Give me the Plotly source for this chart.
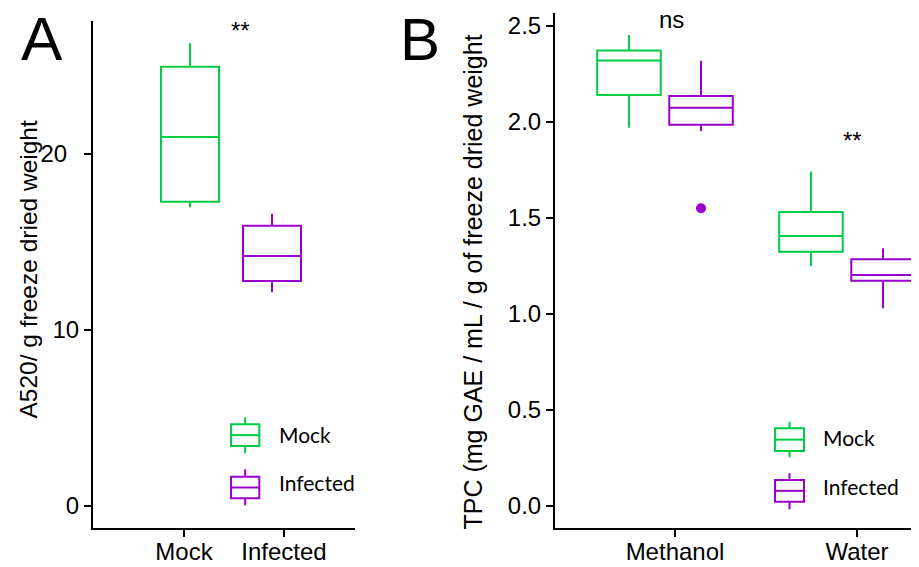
import plotly.graph_objects as go

# ---------------- data ----------------
A_groups = ["Mock", "Infected"]
A_q1 = [17.29, 12.78]
A_median = [20.97, 14.20]
A_q3 = [24.96, 15.93]
A_lower = [16.97, 12.14]
A_upper = [26.29, 16.61]
A_ticks = [0, 10, 20]
A_ticklabels = ["0", "10", "20\u2002"]

B_categories = ["Methanol", "Water"]
B_groups = ["Mock", "Infected"]
B_q1 = {"Mock": [2.141, 1.324], "Infected": [1.986, 1.173]}
B_median = {"Mock": [2.321, 1.406], "Infected": [2.074, 1.203]}
B_q3 = {"Mock": [2.373, 1.531], "Infected": [2.135, 1.286]}
B_lower = {"Mock": [1.970, 1.250], "Infected": [1.953, 1.030]}
B_upper = {"Mock": [2.453, 1.741], "Infected": [2.319, 1.342]}
B_outlier_cat = ["Methanol"]
B_outlier_group = ["Infected"]
B_outlier_val = [1.551]
B_ticks = [0, 0.5, 1.0, 1.5, 2.0, 2.5]
B_ticklabels = ["0.0", "0.5", "1.0", "1.5", "2.0", "2.5"]

A_sig = "**"
B_sig = ["ns", "**"]

# ---------------- style ----------------
W, H = 919, 567
OFF = 8  # page body margin offset
COLORS = {"Mock": "#00CC44", "Infected": "#9900CC"}
AXFONT = "Liberation Sans, Arial, Helvetica, sans-serif"
LEGFONT = "Lato, Noto Sans, sans-serif"

def px(x):
    return (x - OFF) / W

def py(y):
    return 1 - (y - OFF) / H

A_box_pos = {"Mock": 1.06, "Infected": 1.88}
B_dodge = {"Mock": -0.198, "Infected": 0.198}
B_shift = -0.055

fig = go.Figure()

for i, g in enumerate(A_groups):
    fig.add_trace(go.Box(
        x=[A_box_pos[g]], q1=[A_q1[i]], median=[A_median[i]], q3=[A_q3[i]],
        lowerfence=[A_lower[i]], upperfence=[A_upper[i]],
        width=0.58, whiskerwidth=0, boxpoints=False,
        line=dict(color=COLORS[g], width=2), fillcolor="rgba(0,0,0,0)",
        xaxis="x", yaxis="y", showlegend=False, hoverinfo="skip"))

for g in B_groups:
    xs = [j + 1 + B_dodge[g] + B_shift for j in range(len(B_categories))]
    fig.add_trace(go.Box(
        x=xs, q1=B_q1[g], median=B_median[g], q3=B_q3[g],
        lowerfence=B_lower[g], upperfence=B_upper[g],
        width=0.349, whiskerwidth=0, boxpoints=False,
        line=dict(color=COLORS[g], width=2), fillcolor="rgba(0,0,0,0)",
        xaxis="x2", yaxis="y2", showlegend=False, hoverinfo="skip"))

ox = [B_categories.index(c) + 1 + B_dodge[g] + B_shift for c, g in zip(B_outlier_cat, B_outlier_group)]
fig.add_trace(go.Scatter(
    x=ox, y=B_outlier_val, mode="markers",
    marker=dict(color=[COLORS[g] for g in B_outlier_group], size=10),
    xaxis="x2", yaxis="y2", showlegend=False, hoverinfo="skip"))

axis_common = dict(showline=True, linecolor="black", linewidth=2, ticks="outside",
                   ticklen=7, tickwidth=2, tickcolor="black", showgrid=False,
                   zeroline=False, tickfont=dict(family=AXFONT, size=24, color="black"))

fig.update_layout(
    width=W, height=H, margin=dict(l=0, r=0, t=0, b=0),
    paper_bgcolor="white", plot_bgcolor="white", showlegend=False,
    xaxis=dict(domain=[px(93), px(355)], range=[0.09, 2.71], tickmode="array",
               tickvals=[1, 2], ticktext=A_groups, anchor="y", ticklabelstandoff=-6, **axis_common),
    yaxis=dict(domain=[py(528.3), py(21)], range=[-1.27, 27.56], tickmode="array",
               tickvals=A_ticks, ticktext=A_ticklabels, anchor="x", **axis_common),
    xaxis2=dict(domain=[px(555), px(919)], range=[0.3407, 2.3407], tickmode="array",
                tickvals=[1, 2], ticktext=B_categories, anchor="y2", ticklabelstandoff=-6,
                **axis_common),
    yaxis2=dict(domain=[py(528.3), py(12.8)], range=[-0.116, 2.569], tickmode="array",
                tickvals=B_ticks, ticktext=B_ticklabels, anchor="x2", **axis_common),
)

ann = []
def txt(text, x, y, size, family=AXFONT, angle=0, xanchor="center"):
    ann.append(dict(text=text, x=px(x), y=py(y), xref="paper", yref="paper", showarrow=False,
                    textangle=angle, xanchor=xanchor, yanchor="middle",
                    font=dict(family=family, size=size, color="black")))

txt("A", 42, 38, 62)
txt("B", 420, 39, 60)
txt("A520/ g freeze dried weight", 27.5, 270, 24.5, angle=-90)
txt("TPC (mg GAE / mL / g of freeze dried weight", 472.5, 282, 25, angle=-90)
txt(A_sig, 240.5, 30, 24)
txt(B_sig[0], 671, 19, 24)
txt(B_sig[1], 852.5, 140, 24)

shapes = []

def legend_icon(x0, x1, top, bottom, wtop, wbot, color):
    xm = (x0 + x1) / 2
    med = (top + bottom) / 2
    ln = dict(color=color, width=2)
    shapes.append(dict(type="rect", xref="paper", yref="paper", x0=px(x0), x1=px(x1),
                       y0=py(bottom), y1=py(top), line=ln, fillcolor="rgba(0,0,0,0)"))
    shapes.append(dict(type="line", xref="paper", yref="paper", x0=px(x0), x1=px(x1),
                       y0=py(med), y1=py(med), line=ln))
    shapes.append(dict(type="line", xref="paper", yref="paper", x0=px(xm), x1=px(xm),
                       y0=py(top), y1=py(wtop), line=ln))
    shapes.append(dict(type="line", xref="paper", yref="paper", x0=px(xm), x1=px(xm),
                       y0=py(bottom), y1=py(wbot), line=ln))

legend_icon(231, 259.3, 424.3, 446, 417.3, 453.3, COLORS["Mock"])
legend_icon(231, 259.3, 476.7, 498.3, 469.3, 505.3, COLORS["Infected"])
legend_icon(775, 804, 428.3, 451, 421.7, 457.3, COLORS["Mock"])
legend_icon(775, 804, 480, 501.7, 473.3, 509.3, COLORS["Infected"])

for (tx, ty, g) in [(276.7, 434, "Mock"), (276.7, 482, "Infected"),
                    (821, 437.3, "Mock"), (821, 486.7, "Infected")]:
    txt(g, tx, ty, 21, family=LEGFONT, xanchor="left")

fig.update_layout(annotations=ann, shapes=shapes)

fig.write_html("out.html")
